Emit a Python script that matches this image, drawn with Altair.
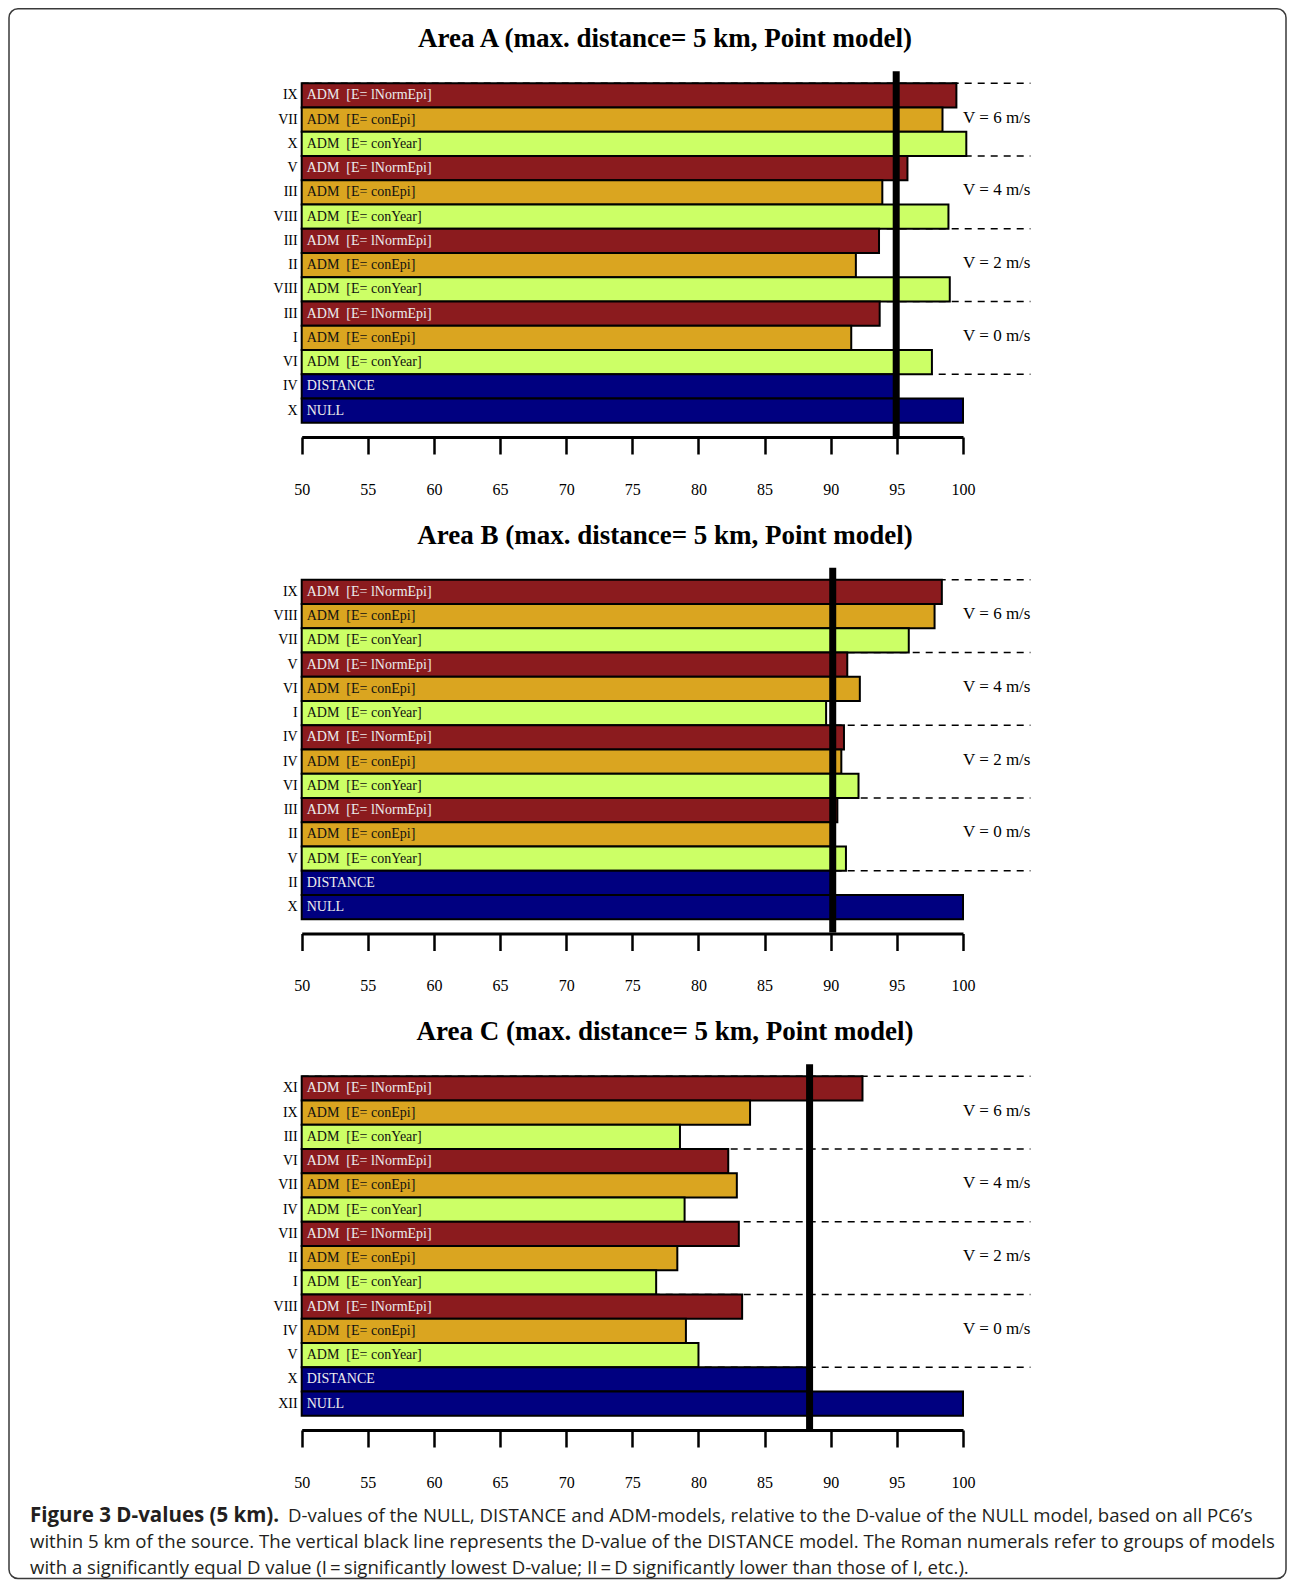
import altair as alt
import pandas as pd

# ---------------- data ----------------
KINDS = ["lNormEpi", "conEpi", "conYear"] * 4 + ["DISTANCE", "NULL"]
BAR_LABELS = ["ADM\u00a0 [E= lNormEpi]", "ADM\u00a0 [E= conEpi]", "ADM\u00a0 [E= conYear]"] * 4 + ["DISTANCE", "NULL"]

A_TITLE = "Area A (max. distance= 5 km, Point model)"
A_GROUPS = ["IX", "VII", "X", "V", "III", "VIII", "III", "II", "VIII", "III", "I", "VI", "IV", "X"]
A_VALUES = [99.5, 98.45, 100.25, 95.8, 93.9, 98.9, 93.65, 91.9, 99.0, 93.7, 91.55, 97.65, 94.95, 100.0]

B_TITLE = "Area B (max. distance= 5 km, Point model)"
B_GROUPS = ["IX", "VIII", "VII", "V", "VI", "I", "IV", "IV", "VI", "III", "II", "V", "II", "X"]
B_VALUES = [98.4, 97.85, 95.9, 91.25, 92.2, 89.65, 91.0, 90.8, 92.1, 90.5, 90.1, 91.15, 90.15, 100.0]

C_TITLE = "Area C (max. distance= 5 km, Point model)"
C_GROUPS = ["XI", "IX", "III", "VI", "VII", "IV", "VII", "II", "I", "VIII", "IV", "V", "X", "XII"]
C_VALUES = [92.4, 83.9, 78.6, 82.25, 82.9, 78.95, 83.05, 78.4, 76.8, 83.3, 79.05, 80.0, 88.4, 100.0]

SPEED_LABELS = ["V = 6 m/s", "V = 4 m/s", "V = 2 m/s", "V = 0 m/s"]
SPEED_BOUNDARIES = [0, 3, 6, 9, 12]
TICKS = [50, 55, 60, 65, 70, 75, 80, 85, 90, 95, 100]
X_START = 50
X_RIGHT_END = 105.1

CAP_BOLD = "Figure 3 D-values (5 km)."
CAP_L1 = "D-values of the NULL, DISTANCE and ADM-models, relative to the D-value of the NULL model, based on all PC6\u2019s"
CAP_L2 = ("within 5 km of the source. The vertical black line represents the D-value of the DISTANCE model. "
          "The Roman numerals refer to groups of models")
CAP_L3 = "with a significantly equal D value (I\u2009=\u2009significantly lowest D-value; II\u2009=\u2009D significantly lower than those of I, etc.)."

# ---------------- layout ----------------
W = 1279
PANEL_H = 429
SPACING = 67.5
CAP_H = 81
X_RANGE = [293.7, 955.0]
Y_RANGE = [75.3, 414.7]
SERIF = "Liberation Serif"

KIND_DOMAIN = ["lNormEpi", "conEpi", "conYear", "DISTANCE", "NULL"]
KIND_COLORS = ["#8B1B1E", "#DAA520", "#CCFF66", "#000080", "#000080"]

xs = alt.Scale(domain=[50, 100], range=X_RANGE, nice=False, zero=False)
ys = alt.Scale(domain=[0, 14], range=Y_RANGE, nice=False, zero=False)
xaxis = alt.Axis(values=TICKS, format="d", grid=False, title=None,
                 domainColor="black", domainWidth=3, tickColor="black",
                 tickWidth=2.5, tickSize=17, labelFont=SERIF, labelFontSize=16,
                 labelColor="black", labelPadding=35, labelBaseline="middle",
                 labelFlush=False, labelOverlap=False)


def X(field):
    return alt.X(field, type="quantitative", scale=xs, axis=xaxis)


def Y(field):
    return alt.Y(field, type="quantitative", scale=ys, axis=None)


def panel(title, groups, values, with_border=False):
    n = len(values)
    df = pd.DataFrame({
        "row": list(range(n)),
        "row_end": [i + 1 for i in range(n)],
        "mid": [i + 0.5 for i in range(n)],
        "start": [X_START] * n,
        "value": values,
        "group": groups,
        "label": BAR_LABELS,
        "kind": KINDS,
    })
    dash_df = pd.DataFrame({"yb": SPEED_BOUNDARIES,
                            "x0": [X_START] * len(SPEED_BOUNDARIES),
                            "x1": [X_RIGHT_END] * len(SPEED_BOUNDARIES)})
    speed_df = pd.DataFrame({"ym": [b + 1.5 for b in SPEED_BOUNDARIES[:4]],
                             "xr": [X_RIGHT_END] * 4, "t": SPEED_LABELS})
    dist_val = values[12]
    vline_df = pd.DataFrame({"x": [dist_val], "y0": [-0.5], "y1": [14.55]})

    dashed = alt.Chart(dash_df).mark_rule(strokeDash=[7, 6], strokeWidth=1.6, color="black").encode(
        x=X("x0"), x2="x1", y=Y("yb"))
    bars = alt.Chart(df).mark_rect(stroke="black", strokeWidth=2).encode(
        x=X("start"), x2="value", y=Y("row"), y2="row_end",
        color=alt.Color("kind:N", scale=alt.Scale(domain=KIND_DOMAIN, range=KIND_COLORS), legend=None))
    roman = alt.Chart(df).mark_text(align="right", baseline="middle", dx=-4, font=SERIF,
                                    fontSize=14, color="black").encode(
        x=X("start"), y=Y("mid"), text="group:N")
    blabels = alt.Chart(df).mark_text(align="left", baseline="middle", dx=5, font=SERIF,
                                      fontSize=14).encode(
        x=X("start"), y=Y("mid"), text="label:N",
        color=alt.condition("datum.kind == 'conEpi' || datum.kind == 'conYear'",
                            alt.value("#111111"), alt.value("#ececec")))
    vline = alt.Chart(vline_df).mark_rule(strokeWidth=7, color="black").encode(
        x=X("x"), y=Y("y0"), y2="y1")
    speeds = alt.Chart(speed_df).mark_text(align="right", baseline="middle", dy=-2, font=SERIF,
                                           fontSize=17, color="black").encode(
        x=X("xr"), y=Y("ym"), text="t:N")
    ttl = alt.Chart(pd.DataFrame({"t": [title]})).mark_text(
        font=SERIF, fontSize=27, fontWeight="bold", align="center", baseline="middle",
        color="black").encode(x=alt.value(657), y=alt.value(31), text="t:N")
    layers = [dashed, bars, roman, blabels, vline, speeds, ttl]
    if with_border:
        border = alt.Chart(pd.DataFrame({"b": [0]})).mark_rect(
            fillOpacity=0, stroke="#3a3a3a", strokeWidth=1.5, cornerRadius=9).encode(
            x=alt.value(1), x2=alt.value(W - 1), y=alt.value(0.75),
            y2=alt.value(3 * PANEL_H + 3 * SPACING + CAP_H))
        layers.append(border)
    return alt.layer(*layers).properties(width=W, height=PANEL_H)


pa = panel(A_TITLE, A_GROUPS, A_VALUES, with_border=True)
pb = panel(B_TITLE, B_GROUPS, B_VALUES)
pc = panel(C_TITLE, C_GROUPS, C_VALUES)

one = pd.DataFrame({"k": [0]})
CAP_FONT = "Open Sans"
CAP_SIZE = 18.6
CAP_COLOR = "#231f20"


def cap_text(text, x, y, weight="normal", size=CAP_SIZE):
    return alt.Chart(one).mark_text(font=CAP_FONT, fontSize=size, fontWeight=weight,
                                    align="left", baseline="middle", color=CAP_COLOR).encode(
        x=alt.value(x), y=alt.value(y), text=alt.value(text))


caption = alt.layer(
    cap_text(CAP_BOLD, 22, 18.5, "bold", 20.5),
    cap_text(CAP_L1, 280, 18.5),
    cap_text(CAP_L2, 22, 44.5),
    cap_text(CAP_L3, 22, 70.5),
).properties(width=W, height=CAP_H)

chart = alt.vconcat(pa, pb, pc, caption, spacing=SPACING, bounds="flush").configure_view(
    strokeWidth=0).properties(padding=0)

chart.save("out.html", embed_options={"renderer": "svg", "actions": False})
